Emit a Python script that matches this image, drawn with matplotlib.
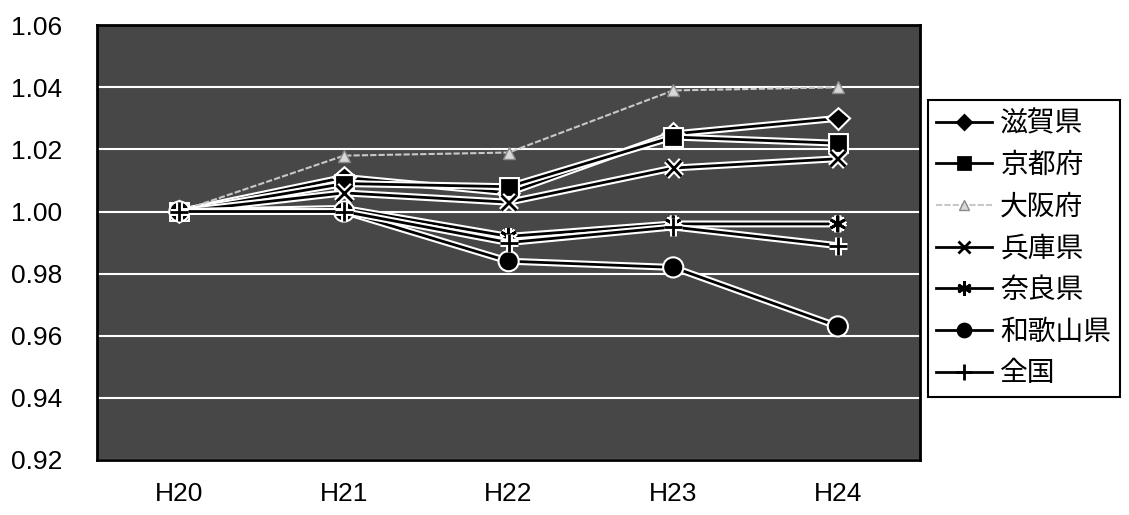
import matplotlib.pyplot as plt
import matplotlib.patheffects as pe
import numpy as np

plt.rcParams['font.family'] = ['Liberation Sans', 'Noto Sans CJK JP', 'DejaVu Sans']

years = ["H20", "H21", "H22", "H23", "H24"]

shiga = [1.000, 1.011, 1.006, 1.025, 1.030]
kyoto = [1.000, 1.009, 1.008, 1.024, 1.022]
osaka = [1.000, 1.018, 1.019, 1.039, 1.040]
hyogo = [1.000, 1.006, 1.003, 1.014, 1.017]
nara = [1.000, 1.001, 0.992, 0.996, 0.996]
wakayama = [1.000, 1.000, 0.984, 0.982, 0.963]
zenkoku = [1.000, 1.000, 0.990, 0.995, 0.989]

labels = ["滋賀県", "京都府", "大阪府", "兵庫県", "奈良県", "和歌山県", "全国"]
series = [shiga, kyoto, osaka, hyogo, nara, wakayama, zenkoku]
markers = ["D", "s", "^", "x", (6, 2, 0), "o", "+"]
msizes = [8, 10, 9, 11, 12, 11, 13]

fig = plt.figure(figsize=(11.29, 5.15), dpi=100)
ax = fig.add_axes([0.086, 0.107, 0.729, 0.844])
ax.set_facecolor("#474747")

x = np.arange(len(years))
halo = [pe.Stroke(linewidth=5, foreground="white"), pe.Normal()]

for i, (y, lab) in enumerate(zip(series, labels)):
    if lab == "大阪府":
        ln, = ax.plot(x, y, color="#c8c8c8", lw=1.5, ls=(0, (3, 1)),
                      marker=markers[i], ms=msizes[i], mfc="#d8d8d8", mec="#8a8a8a",
                      label=lab, zorder=3)
    else:
        ln, = ax.plot(x, y, color="black", lw=2, marker=markers[i], ms=msizes[i],
                      mfc="black", mec="black", mew=2, label=lab, zorder=3)
        ln.set_path_effects(halo)

ax.set_xlim(-0.5, 4.5)
ax.set_ylim(0.92, 1.06)
ax.set_yticks(np.arange(0.92, 1.0601, 0.02))
ax.set_yticklabels([f"{v:.2f}" for v in np.arange(0.92, 1.0601, 0.02)])
ax.set_xticks(x)
ax.set_xticklabels(years)
ax.tick_params(length=0, labelsize=19)
ax.tick_params(axis="x", pad=16)
ax.tick_params(axis="y", pad=25)
ax.grid(axis="y", color="white", lw=1.5)
ax.set_axisbelow(True)
for s in ax.spines.values():
    s.set_linewidth(2)
    s.set_color("black")

leg = ax.legend(loc="upper left", bbox_to_anchor=(0.822, 0.806),
                bbox_transform=fig.transFigure, borderaxespad=0,
                fancybox=False, edgecolor="black", framealpha=1,
                labelspacing=0.42, handlelength=2.0, markerscale=0.85,
                handletextpad=0.3, borderpad=0.3,
                prop={"family": ["Noto Sans CJK JP"], "size": 20})
leg.get_frame().set_linewidth(1.5)
for h in leg.legend_handles:
    h.set_path_effects([])

fig.savefig("out.png", dpi=100)
